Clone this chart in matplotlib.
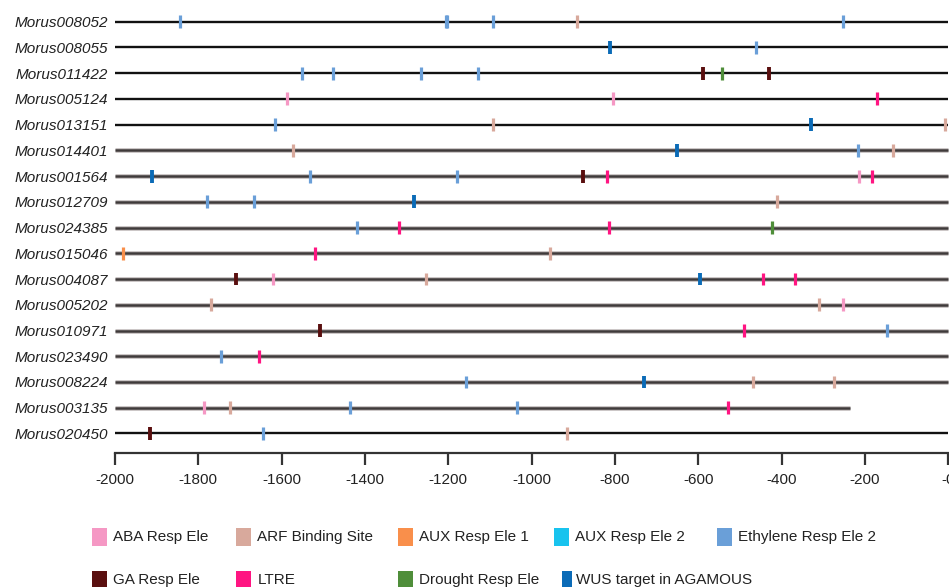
import matplotlib
matplotlib.use("Agg")
import matplotlib.pyplot as plt
from matplotlib.patches import Rectangle

plt.rcParams['font.family'] = ['Liberation Sans', 'DejaVu Sans']

genes = ["Morus008052", "Morus008055", "Morus011422", "Morus005124", "Morus013151",
         "Morus014401", "Morus001564", "Morus012709", "Morus024385", "Morus015046",
         "Morus004087", "Morus005202", "Morus010971", "Morus023490", "Morus008224",
         "Morus003135", "Morus020450"]
gene_start = [-2000] * 17
gene_end = [0, 0, 0, 0, 0, 0, 0, 0, 0, 0, 0, 0, 0, 0, 0, -236, 0]

element_names = ["ABA Resp Ele", "ARF Binding Site", "AUX Resp Ele 1", "AUX Resp Ele 2",
                 "Ethylene Resp Ele 2", "GA Resp Ele", "LTRE", "Drought Resp Ele",
                 "WUS target in AGAMOUS"]
element_colors = ["#f598c4", "#d8a99c", "#f98f4b", "#18c3ee", "#6a9fd8",
                  "#5a0f0f", "#ff1582", "#4f8e3a", "#0b6bb7"]

# sites: gene index, element name, position
site_gene = [0, 0, 0, 0, 0, 0,
             1, 1,
             2, 2, 2, 2, 2, 2, 2,
             3, 3, 3,
             4, 4, 4, 4,
             5, 5, 5, 5,
             6, 6, 6, 6, 6, 6, 6,
             7, 7, 7, 7,
             8, 8, 8, 8,
             9, 9, 9,
             10, 10, 10, 10, 10, 10,
             11, 11, 11,
             12, 12, 12,
             13, 13,
             14, 14, 14, 14,
             15, 15, 15, 15, 15,
             16, 16, 16]
site_type = ["Ethylene Resp Ele 2", "Ethylene Resp Ele 2", "Ethylene Resp Ele 2", "Ethylene Resp Ele 2", "ARF Binding Site", "Ethylene Resp Ele 2",
             "WUS target in AGAMOUS", "Ethylene Resp Ele 2",
             "Ethylene Resp Ele 2", "Ethylene Resp Ele 2", "Ethylene Resp Ele 2", "Ethylene Resp Ele 2", "GA Resp Ele", "Drought Resp Ele", "GA Resp Ele",
             "ABA Resp Ele", "ABA Resp Ele", "LTRE",
             "Ethylene Resp Ele 2", "ARF Binding Site", "WUS target in AGAMOUS", "ARF Binding Site",
             "ARF Binding Site", "WUS target in AGAMOUS", "Ethylene Resp Ele 2", "ARF Binding Site",
             "WUS target in AGAMOUS", "Ethylene Resp Ele 2", "Ethylene Resp Ele 2", "GA Resp Ele", "LTRE", "ABA Resp Ele", "LTRE",
             "Ethylene Resp Ele 2", "Ethylene Resp Ele 2", "WUS target in AGAMOUS", "ARF Binding Site",
             "Ethylene Resp Ele 2", "LTRE", "LTRE", "Drought Resp Ele",
             "AUX Resp Ele 1", "LTRE", "ARF Binding Site",
             "GA Resp Ele", "ABA Resp Ele", "ARF Binding Site", "WUS target in AGAMOUS", "LTRE", "LTRE",
             "ARF Binding Site", "ARF Binding Site", "ABA Resp Ele",
             "GA Resp Ele", "LTRE", "Ethylene Resp Ele 2",
             "Ethylene Resp Ele 2", "LTRE",
             "Ethylene Resp Ele 2", "WUS target in AGAMOUS", "ARF Binding Site", "ARF Binding Site",
             "ABA Resp Ele", "ARF Binding Site", "Ethylene Resp Ele 2", "Ethylene Resp Ele 2", "LTRE",
             "GA Resp Ele", "Ethylene Resp Ele 2", "ARF Binding Site"]
site_pos = [-1844, -1206, -1202, -1092, -890, -252,
            -812, -462,
            -1550, -1477, -1266, -1128, -589, -544, -430,
            -1588, -805, -172,
            -1617, -1092, -329, -8,
            -1572, -650, -217, -132,
            -1911, -1532, -1180, -877, -820, -214, -184,
            -1780, -1666, -1282, -412,
            -1419, -1319, -814, -424,
            -1980, -1521, -956,
            -1709, -1621, -1253, -596, -445, -368,
            -1769, -310, -252,
            -1509, -490, -146,
            -1746, -1654,
            -1158, -730, -469, -274,
            -1787, -1725, -1437, -1034, -529,
            -1916, -1645, -916]

xticks = list(range(-2000, 1, 200))
xtick_labels = [str(v) for v in xticks[:-1]] + ["-0"]

W, H = 949, 587
fig = plt.figure(figsize=(W / 100, H / 100), dpi=100)
fig.patch.set_facecolor("white")

ax = fig.add_axes([115 / W, (H - 453) / H, 833.3 / W, (453 - 1.1) / H])
ax.set_xlim(-2000, 0)
ax.set_ylim(16.76, -0.8)

grey_rows = range(5, 16)
for i, g in enumerate(genes):
    if i in grey_rows:
        ax.hlines(i, gene_start[i], gene_end[i], color="#c4bfbf", lw=3.4, clip_on=False, zorder=1)
        ax.hlines(i, gene_start[i], gene_end[i], color="#3f3a3a", lw=1.8, clip_on=False, zorder=2)
    else:
        ax.hlines(i, gene_start[i], gene_end[i], color="#111111", lw=1.7, clip_on=False, zorder=2)

colmap = dict(zip(element_names, element_colors))
for gi, t, p in zip(site_gene, site_type, site_pos):
    w = 2.8 if t in ("GA Resp Ele", "WUS target in AGAMOUS") else 2.3
    ax.vlines(p, gi - 0.25, gi + 0.25, color=colmap[t], lw=w, zorder=3, clip_on=False)

for s in ["top", "right", "left"]:
    ax.spines[s].set_visible(False)
ax.spines["bottom"].set_linewidth(1.6)
ax.spines["bottom"].set_color("#333333")
ax.set_xticks(xticks)
ax.set_xticklabels(xtick_labels, fontsize=11, color="#222222")
ax.tick_params(axis="x", direction="out", length=8.5, width=1.6, color="#333333", pad=6)
ax.set_yticks(range(len(genes)))
ax.set_yticklabels(genes, fontsize=11, fontstyle="italic", color="#222222")
ax.tick_params(axis="y", length=0, pad=5)

# legend drawn in pixel space
leg = fig.add_axes([0, 0, 1, 1], zorder=-1)
leg.set_xlim(0, W)
leg.set_ylim(H, 0)
leg.axis("off")
leg_x = [92, 236, 398, 554, 717, 92, 236, 398, 562]
leg_y = [536.5, 536.5, 536.5, 536.5, 536.5, 580, 580, 580, 580]
leg_w = [15.5, 15.5, 15.5, 15.5, 15.5, 15.5, 15.5, 15.5, 10]
for name, c, x, y, w in zip(element_names, element_colors, leg_x, leg_y, leg_w):
    leg.add_patch(Rectangle((x, y - 9), w, 18, color=c, lw=0))
for name, x, y in zip(element_names, leg_x, leg_y):
    tx = x + 21.5 if name != "WUS target in AGAMOUS" else 576.5
    leg.text(tx, y, name, fontsize=11, color="#222222", va="center", ha="left")

fig.savefig("out.png", dpi=100, facecolor="white")
